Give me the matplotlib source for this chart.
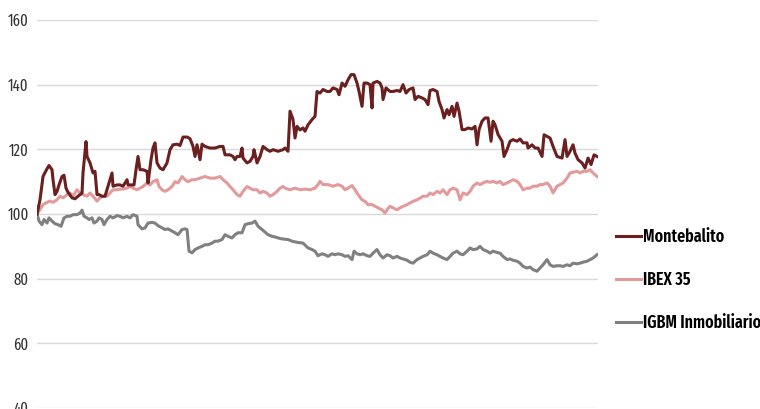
import matplotlib.pyplot as plt

# session index (trading-day position) and index level, base 100
mb_day = [0, 3, 6, 10, 12, 15, 16, 18, 20, 22, 25, 27, 29, 31, 35, 38, 41, 45, 46, 49, 50, 53, 56, 58,
          60, 62, 65, 68, 71, 75, 76, 80, 83, 86, 90, 91, 95, 97, 99, 101, 103, 106, 110, 111, 114, 116,
          118, 120, 123, 126, 130, 133, 136, 140, 143, 146, 150, 153, 156, 158, 160, 163, 165, 168, 173,
          178, 183, 186, 188, 193, 196, 198, 200, 203, 205, 206, 210, 213, 216, 217, 220, 223, 226, 230,
          233, 236, 241, 246, 248, 251, 253, 256, 258, 260, 263, 266, 268, 271, 275, 278, 280, 283, 286,
          290, 293, 296, 300, 302, 305, 308, 311, 314, 317, 320, 322, 325, 327, 330, 333, 335, 336, 340,
          343, 345, 346, 349, 353, 356, 360, 363, 366, 369, 372, 376, 378, 381, 385, 388, 391, 393, 396,
          400, 402, 405, 407, 410, 412, 415, 417, 420, 422, 425, 428, 431, 435, 438, 440, 442, 445, 448,
          451, 454, 456, 458, 461, 465, 467, 470, 473, 476, 480, 483, 486, 490, 491, 495, 498, 501, 505,
          507, 510, 513, 516, 520, 525, 528, 530, 533, 536, 538, 541, 545, 548, 551, 554, 557, 560]
mb_val = [100, 104.4, 111.6, 114, 115, 113.7, 110.6, 106, 107, 109, 111.6, 112, 108, 106.7, 105, 104.7,
          105.5, 106.5, 112.7, 122.4, 117.8, 115.8, 112.7, 113.2, 106, 106, 105.5, 105.5, 108.6, 112.7,
          108.6, 109, 109, 108.6, 110.6, 109, 109, 109, 113.7, 117.8, 113.7, 113.7, 113.2, 109.6, 116.8,
          120.4, 122, 115.8, 114.2, 113.7, 115.8, 119.9, 121.4, 121.6, 121.2, 123.8, 123.8, 123.3, 120.9,
          117.8, 121.4, 116.8, 121.6, 120.9, 120.4, 120.4, 120.9, 120.9, 118.3, 118.3, 117.8, 116.8, 117.8,
          117.8, 120.4, 117.3, 115.8, 116.3, 117.8, 119.9, 115.8, 117.8, 120.9, 119.9, 119.4, 119.9, 119.4,
          119.9, 120.4, 119.4, 131.8, 129.2, 123.5, 127.1, 126, 126.6, 125.6, 127.6, 129.2, 130.2, 137.9,
          137.4, 138.5, 137.9, 137.9, 139, 138.5, 136.9, 140.5, 139.5, 141.5, 143.1, 143.1, 140.5, 137.9,
          133.3, 140.5, 140.5, 140, 132.8, 140.5, 141, 140.5, 139, 135.4, 139, 137.9, 137.9, 138.2, 137.9,
          140, 137.4, 138.5, 139, 135.4, 136.4, 135.9, 135.4, 133.8, 138.2, 138.5, 137.9, 134.8, 132.3,
          129.7, 132.3, 130.7, 133.3, 130.2, 134.3, 131.8, 126.1, 126.1, 126.6, 126.3, 127.1, 121.4, 126.1,
          128.7, 129.7, 129.7, 122.5, 128.7, 127.6, 124.6, 122.5, 117.8, 119.9, 122.5, 123, 122.5, 123.2,
          122, 122, 120.4, 121.4, 120.4, 120.4, 117.8, 124.5, 124, 123.5, 120.9, 117.8, 117.3, 123, 117.8,
          119.4, 121.4, 118.8, 116.8, 115.8, 114.2, 117.3, 115.3, 118.3, 117.8]

ibex_day = [0, 3, 6, 10, 13, 16, 20, 23, 26, 30, 33, 36, 40, 43, 46, 50, 53, 56, 60, 63, 66, 70, 73, 76,
            80, 83, 86, 90, 93, 96, 100, 103, 106, 110, 113, 116, 120, 122, 125, 128, 131, 135, 138, 141,
            145, 148, 151, 155, 158, 163, 168, 173, 178, 183, 186, 190, 193, 196, 200, 203, 206, 210, 213,
            216, 220, 223, 226, 230, 233, 236, 240, 243, 246, 248, 253, 258, 263, 268, 273, 278, 281, 283,
            286, 291, 296, 301, 305, 308, 311, 315, 318, 321, 325, 328, 331, 335, 338, 341, 345, 348, 350,
            353, 356, 360, 363, 366, 370, 373, 376, 380, 383, 386, 390, 393, 396, 400, 403, 406, 410, 413,
            416, 420, 423, 426, 430, 433, 436, 440, 443, 446, 450, 453, 456, 460, 463, 466, 470, 473, 476,
            480, 483, 486, 490, 493, 496, 500, 503, 506, 510, 513, 516, 520, 523, 526, 530, 533, 536, 540,
            543, 546, 550, 553, 556, 560]
ibex_val = [100, 101.4, 102.9, 103.6, 104, 103.6, 104.4, 105.5, 105, 106, 106.5, 105.5, 107.5, 106.5,
            106, 105.5, 106.5, 105.5, 104, 105, 105.5, 105.5, 106.5, 107.5, 107.5, 107.7, 107.7, 108,
            108.5, 108, 107.5, 108, 108.5, 109.6, 109, 110, 110.6, 108.5, 107.5, 107, 107.5, 108.5, 110,
            109.6, 111.6, 110.6, 110, 110.6, 110.6, 111.1, 111.6, 111.1, 111.1, 111.6, 110.6, 109.6, 108.5,
            107.5, 106, 105.5, 107, 108.5, 108, 107.5, 107.5, 106.5, 107, 106.5, 105.5, 106, 107, 108,
            108.5, 108, 107.5, 108, 107.5, 107.7, 107.5, 108, 109.1, 110.1, 109.1, 109.1, 108.6, 109.1,
            108.6, 107.5, 108, 108.8, 107.5, 106, 104.4, 103.9, 102.9, 102.9, 102.4, 101.9, 101.3, 100.3,
            101.3, 102.4, 101.9, 101.3, 101.9, 102.4, 102.9, 103.4, 103.9, 104.4, 104.9, 105.5, 105.5,
            106.5, 106, 107, 106.5, 107.5, 106, 107.5, 108, 107.5, 104.4, 106.5, 106, 107, 108.6, 109.6,
            109.1, 109.6, 110.1, 109.8, 110.1, 109.6, 110.1, 109.1, 109.6, 110.1, 110.6, 110.1, 109.1,
            107.5, 108, 108, 108.6, 108.6, 109.1, 109.1, 109.6, 108.6, 106.5, 108.6, 109.1, 109.6, 111.1,
            112.7, 112.9, 113.2, 112.7, 113.2, 113.2, 113.7, 112.7, 111.6]

igbm_day = [0, 2, 5, 7, 10, 12, 15, 18, 21, 24, 27, 30, 33, 36, 40, 43, 45, 47, 50, 52, 55, 57, 60, 62,
            65, 67, 70, 73, 76, 80, 83, 86, 90, 93, 96, 100, 101, 105, 108, 111, 115, 118, 121, 125, 128,
            131, 135, 138, 141, 145, 148, 150, 152, 155, 158, 161, 165, 168, 171, 175, 178, 181, 185, 188,
            191, 195, 198, 201, 205, 208, 211, 215, 218, 221, 225, 228, 231, 235, 238, 241, 245, 251, 256,
            261, 266, 271, 275, 278, 281, 285, 288, 291, 295, 298, 301, 305, 308, 311, 315, 317, 320, 323,
            326, 330, 333, 336, 340, 343, 346, 350, 353, 356, 360, 363, 366, 370, 373, 376, 380, 383, 386,
            390, 393, 396, 400, 403, 406, 410, 413, 416, 420, 423, 426, 430, 433, 436, 440, 443, 446, 450,
            453, 456, 460, 463, 466, 470, 473, 476, 480, 483, 486, 490, 493, 496, 500, 503, 506, 510, 513,
            516, 520, 523, 526, 530, 533, 536, 540, 543, 546, 550, 553, 556, 560]
igbm_val = [100, 97.8, 96.7, 98.3, 97.2, 98.8, 97.8, 97, 96.7, 96.2, 98.8, 99.3, 99.3, 99.8, 99.8, 100.3,
            101.2, 99.3, 98.8, 98.3, 98.8, 97.2, 97.8, 98.8, 98.3, 96.7, 98.3, 99.3, 98.8, 99.5, 99.3, 98.8,
            99.3, 98.8, 99.8, 99.3, 96.7, 95.4, 95.7, 97.2, 97.4, 97.2, 96.4, 95.7, 95.2, 95.4, 94.7, 94.2,
            93.6, 95.2, 95.4, 95.2, 88.5, 88, 89, 89.5, 90, 90.5, 90.5, 91, 91.6, 91.6, 92.1, 93.6, 93.1,
            92.6, 93.6, 94.2, 94.2, 96.7, 97, 97.2, 97.8, 96.2, 95.2, 94.4, 93.6, 93.1, 92.9, 92.6, 92.3,
            92.1, 91.5, 91.2, 91, 89.5, 89, 88.5, 87.1, 87.7, 87.4, 86.9, 87.7, 87.4, 87.7, 87.4, 86.9,
            87.1, 85.9, 88.5, 87.7, 87.4, 87.7, 87.1, 86.9, 87.9, 89, 87.4, 86.4, 87.4, 87.1, 86.4, 86.9,
            86.4, 86.1, 85.7, 85.1, 84.8, 85.9, 86.4, 86.9, 87.4, 88.5, 87.9, 87.4, 86.9, 86.4, 85.9, 86.9,
            87.9, 88.5, 87.7, 87.4, 88.5, 89.5, 89, 89.2, 90, 89, 88.5, 87.9, 88.5, 88.1, 87.9, 86.9, 85.9,
            86.1, 85.7, 85.4, 84.8, 83.8, 83.3, 83.6, 82.8, 82.3, 83.3, 84.3, 85.9, 84.3, 83.8, 84, 84,
            83.8, 84.3, 84, 84.8, 84.6, 84.8, 85.1, 85.4, 85.9, 86.4, 87.4]

yticks = [40, 60, 80, 100, 120, 140, 160]

fonts = ['Fira Sans Extra Condensed', 'Fira Sans Condensed', 'DejaVu Sans']
plt.rcParams['font.family'] = fonts

fig = plt.figure(figsize=(7.6, 4.09), dpi=100)
ax = fig.add_axes([0.0487, 0.0024, 0.7382, 0.9487])

ax.plot(mb_day, mb_val, color='#6b1f1f', lw=2.2, label='Montebalito', zorder=4)
ax.plot(ibex_day, ibex_val, color='#e29a9a', lw=2.2, label='IBEX 35', zorder=3)
ax.plot(igbm_day, igbm_val, color='#808080', lw=2.2, label='IGBM Inmobiliario', zorder=3)

ax.set_xlim(0, 561)
ax.set_ylim(40, 160)
ax.set_yticks(yticks)
ax.set_xticks([])
ax.grid(axis='y', color='#d9d9d9', lw=1)
ax.set_axisbelow(True)
for s in ax.spines.values():
    s.set_visible(False)
ax.tick_params(axis='y', length=0, pad=6, labelsize=11.5, labelcolor='#333333')

fig.legend(loc='center left', bbox_to_anchor=(0.790, 0.315), frameon=False,
           handlelength=1.45, handletextpad=0.1, labelspacing=1.45,
           prop={'family': fonts, 'weight': 600, 'size': 12.5})

fig.savefig('out.png', dpi=100)
